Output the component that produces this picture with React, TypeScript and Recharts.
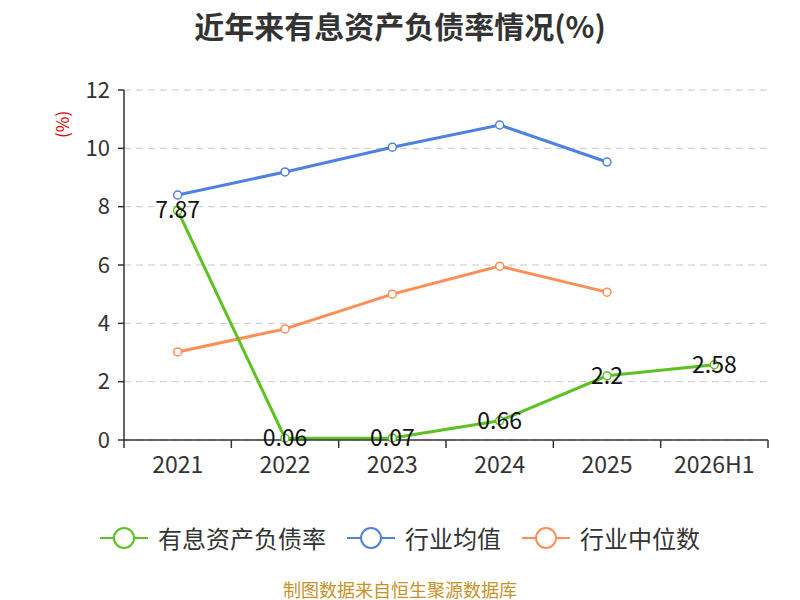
import React from "react";
import { LineChart, Line, XAxis, YAxis, CartesianGrid } from "recharts";

const categories = ["2021", "2022", "2023", "2024", "2025", "2026H1"];
const debtRatio = [7.87, 0.06, 0.07, 0.66, 2.2, 2.58];
const industryAvg = [8.4, 9.19, 10.04, 10.8, 9.53, null];
const industryMedian = [3.02, 3.81, 5.0, 5.96, 5.07, null];
const yTicks = [0, 2, 4, 6, 8, 10, 12];

const seriesNames = ["有息资产负债率", "行业均值", "行业中位数"];
const colors = ["#5bc221", "#4f81e1", "#ff8d55"];

const data = categories.map((c, i) => ({
  name: c,
  debt: debtRatio[i],
  avg: industryAvg[i],
  median: industryMedian[i],
}));

const FONT = "'Noto Sans CJK SC', 'Noto Sans', sans-serif";
const W = 800;
const H = 600;
const M = { top: 90, right: 32, bottom: 120, left: 0 };
const Y_W = 124;
const BAND = (W - M.left - M.right - Y_W) / categories.length;

const XTick = (props: any) => {
  const { x, y, payload, index } = props;
  const half = BAND / 2;
  return (
    <g>
      <line x1={x - half} y1={y} x2={x - half} y2={y + 8} stroke="#333" strokeWidth={1.5} />
      {index === categories.length - 1 && (
        <line x1={x + half} y1={y} x2={x + half} y2={y + 8} stroke="#333" strokeWidth={1.5} />
      )}
      <text x={x} y={y + 33} textAnchor="middle" fill="#333" fontSize={23} fontFamily={FONT}>
        {payload.value}
      </text>
    </g>
  );
};

const ValueLabel = (props: any) => {
  const { x, y, value } = props;
  if (value == null) return null;
  return (
    <text x={x} y={y - 2} textAnchor="middle" dominantBaseline="central" fill="#111" fontSize={23} fontFamily={FONT}>
      {value}
    </text>
  );
};

const dotStyle = (c: string) => ({ r: 4, fill: "#fff", stroke: c, strokeWidth: 1.5 });

export default function App() {
  return (
    <div style={{ position: "absolute", left: 0, top: 0, width: W, height: H, background: "#fff", fontFamily: FONT, overflow: "hidden" }}>
      <div style={{ position: "absolute", top: 3, width: W, textAlign: "center", fontSize: 30, fontWeight: "bold", color: "#333" }}>
        近年来有息资产负债率情况(%)
      </div>
      <LineChart width={W} height={H} data={data} margin={M}>
        <CartesianGrid vertical={false} stroke="#c8c8c8" strokeDasharray="7 5" />
        <XAxis
          dataKey="name"
          stroke="#333"
          strokeWidth={1.5}
          tickLine={false}
          tickSize={0}
          tickMargin={0}
          tick={<XTick />}
          height={40}
          interval={0}
          padding={{ left: BAND / 2, right: BAND / 2 }}
        />
        <YAxis
          domain={[0, 12]}
          ticks={yTicks}
          width={Y_W}
          stroke="#333"
          strokeWidth={1.5}
          tickSize={6}
          tickMargin={8}
          tick={{ fill: "#333", fontSize: 22, fontFamily: FONT }}
          label={{ value: "(%)", angle: -90, position: "insideTopLeft", dx: 52, dy: 43, fill: "#e00000", fontSize: 17 }}
        />
        <Line
          dataKey="avg"
          stroke={colors[1]}
          strokeWidth={3}
          dot={dotStyle(colors[1])}
          isAnimationActive={false}
        />
        <Line
          dataKey="median"
          stroke={colors[2]}
          strokeWidth={3}
          dot={dotStyle(colors[2])}
          isAnimationActive={false}
        />
        <Line
          dataKey="debt"
          stroke={colors[0]}
          strokeWidth={3}
          dot={dotStyle(colors[0])}
          label={<ValueLabel />}
          isAnimationActive={false}
        />
      </LineChart>
      <div style={{ position: "absolute", top: 520, width: W, display: "flex", justifyContent: "center", gap: 21, fontSize: 24, color: "#333" }}>
        {seriesNames.map((n, i) => (
          <div key={n} style={{ display: "flex", alignItems: "center" }}>
            <svg width={48} height={32}>
              <line x1={0} y1={16} x2={48} y2={16} stroke={colors[i]} strokeWidth={2} />
              <circle cx={24} cy={16} r={10} fill="#fff" stroke={colors[i]} strokeWidth={2} />
            </svg>
            <span style={{ marginLeft: 10 }}>{n}</span>
          </div>
        ))}
      </div>
      <div style={{ position: "absolute", top: 579, width: W, textAlign: "center", fontSize: 18, lineHeight: "20px", color: "#c8922a" }}>
        制图数据来自恒生聚源数据库
      </div>
    </div>
  );
}
